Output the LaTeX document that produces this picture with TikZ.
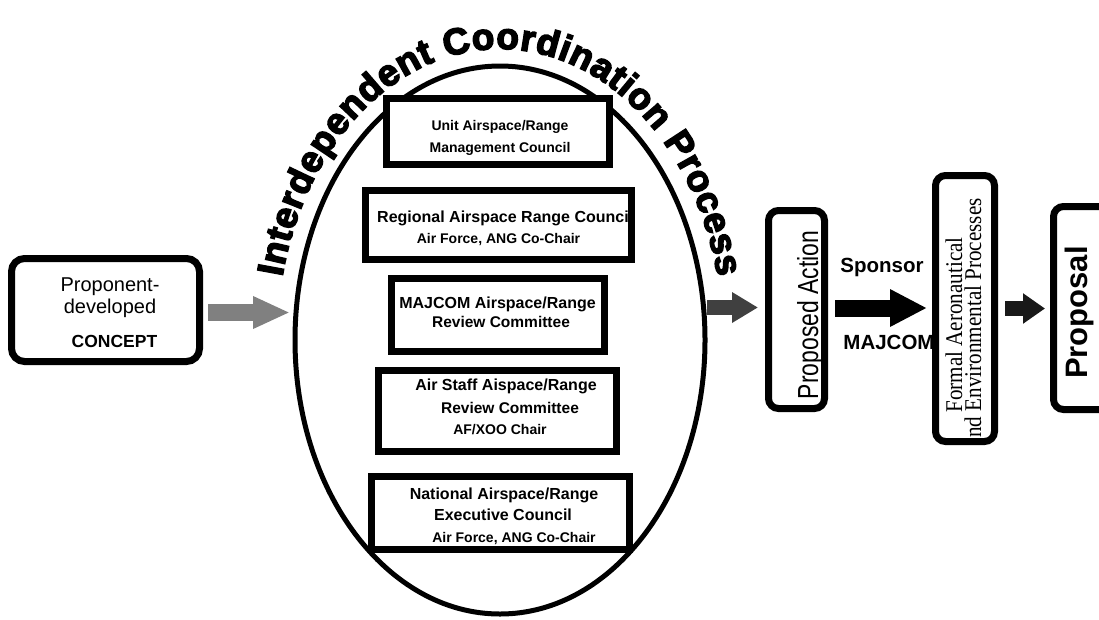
\documentclass[tikz,border=0pt]{standalone}
\usepackage{fontspec}
\setmainfont{Liberation Sans}
\newfontfamily\serifface{Liberation Serif}
\newfontfamily\heavyface[FakeBold=4]{Liberation Sans Bold}
\usepackage{graphicx}
\usetikzlibrary{shapes.geometric, arrows.meta, decorations.text, calc}
\tikzset{
  sqbox/.style={draw=black, line width=7pt, fill=white, inner sep=0pt, outer sep=0pt},
  rbox/.style={sqbox, rounded corners=10pt},
  lbl/.style={anchor=base, inner sep=0pt},
  b14/.style={lbl, font=\bfseries\fontsize{14}{16}\selectfont},
  b15/.style={lbl, font=\bfseries\fontsize{15.5}{17}\selectfont},
  b16/.style={lbl, font=\bfseries\fontsize{16}{18}\selectfont},
  b17/.style={lbl, font=\bfseries\fontsize{17.5}{19}\selectfont},
  b20/.style={lbl, font=\bfseries\fontsize{20.5}{22}\selectfont},
  r20/.style={lbl, font=\fontsize{20}{22}\selectfont},
  vert/.style={lbl, rotate=90},
  blockarrow/.style={line width=#1}
}
\begin{document}
\begin{tikzpicture}[x=1pt, y=1pt]
\useasboundingbox (0,0) rectangle (1099,-619);
\clip (0,0) rectangle (1099,-619);
\fill[white] (0,0) rectangle (1099,-619);

% central ellipse
\node[draw=black, ellipse, line width=5pt, minimum width=410pt, minimum height=548pt, inner sep=0pt, outer sep=0pt] (ell) at (500,-340) {};

% curved title
\path[decorate, decoration={text along path, text align={fit to path},
  text={|\heavyface\fontsize{37}{37}\selectfont|Interdependent Coordination Process}}]
  (500,-340) ++(167.5:223 and 291) arc[start angle=167.5, end angle=12.5, x radius=223, y radius=291];

% boxes in the ellipse
\node[sqbox, minimum width=223pt, minimum height=66pt] (unit) at (498,-131.5) {};
\node[sqbox, minimum width=266pt, minimum height=69pt] (reg) at (498.5,-225) {};
\node[sqbox, minimum width=213pt, minimum height=73pt] (maj) at (498,-315) {};
\node[sqbox, minimum width=238pt, minimum height=81pt] (air) at (497.5,-411) {};
\node[sqbox, minimum width=258pt, minimum height=73pt] (nat) at (500.5,-513) {};

% other boxes
\node[rbox, rounded corners=13pt, minimum width=188pt, minimum height=103pt] (concept) at (105.5,-310) {};
\node[rbox, minimum width=56pt, minimum height=198pt] (pa) at (796.5,-309.5) {};
\node[rbox, minimum width=59pt, minimum height=266pt] (formal) at (965,-308.5) {};
\node[rbox, minimum width=57pt, minimum height=203pt] (prop) at (1082,-308) {};

% texts in ellipse boxes
\node[b14] (u1) at (500,-130) {Unit Airspace/Range};
\node[b14] (u2) at (500,-152) {Management Council};
\node[b16, anchor=base west] (r1) at (377,-222) {Regional Airspace Range Council};
\node[b14] (r2) at (498.5,-243) {Air Force, ANG Co-Chair};
\draw[line width=7pt] (reg.north west) rectangle (reg.south east);
\node[b16] (m1) at (497.5,-308) {MAJCOM Airspace/Range};
\node[b15] (m2) at (501,-327) {Review Committee};
\node[b16] (s1) at (506,-390) {Air Staff Aispace/Range};
\node[b15] (s2) at (510,-413) {Review Committee};
\node[b14] (s3) at (500,-434) {AF/XOO Chair};
\node[b16] (n1) at (504,-499) {National Airspace/Range};
\node[b16] (n2) at (503,-520) {Executive Council};
\node[b14] (n3) at (514,-542) {Air Force, ANG Co-Chair};

% concept text
\node[r20] (c1) at (110,-291) {Proponent-};
\node[r20] (c2) at (110,-313) {developed};
\node[b17] (c3) at (114.5,-347) {CONCEPT};

% vertical texts
\node[vert] (pat) at (818,-315) {\scalebox{0.79}[1]{\fontsize{29}{29}\selectfont Proposed Action}};
\node[vert] (f1) at (962,-325) {\scalebox{0.88}[1]{\serifface\fontsize{24}{24}\selectfont Formal Aeronautical}};
\node[vert] (f2) at (981,-318) {\scalebox{0.88}[1]{\serifface\fontsize{24}{24}\selectfont nd Environmental Processes}};
\node[vert, font=\bfseries\fontsize{31}{31}\selectfont] (propt) at (1087,-312.5) {Proposal};

% sponsor labels
\node[b20] (sp) at (882,-272.7) {Sponsor};
\node[b20] (mj) at (889,-349) {MAJCOM};

% block arrows
\draw[black!50, blockarrow=17pt, -{Triangle[length=37pt, width=30pt]}]
  ($(concept.east)+(8.5,-2.5)$) -- ($(ell.west)+(-5,27.5)$);
\draw[black!75, blockarrow=15pt, -{Triangle[length=26pt, width=29pt]}]
  ($(ell.east)+(2,32.5)$) -- ($(pa.west)+(-10.5,2)$);
\draw[black, blockarrow=17pt, -{Triangle[length=37pt, width=35pt]}]
  ($(pa.east)+(10.5,1.5)$) -- ($(formal.west)+(-8.5,0.5)$);
\draw[black!90, blockarrow=15pt, -{Triangle[length=22pt, width=29pt]}]
  ($(formal.east)+(10.5,0)$) -- ($(prop.west)+(-8.5,-0.5)$);
\end{tikzpicture}
\end{document}
